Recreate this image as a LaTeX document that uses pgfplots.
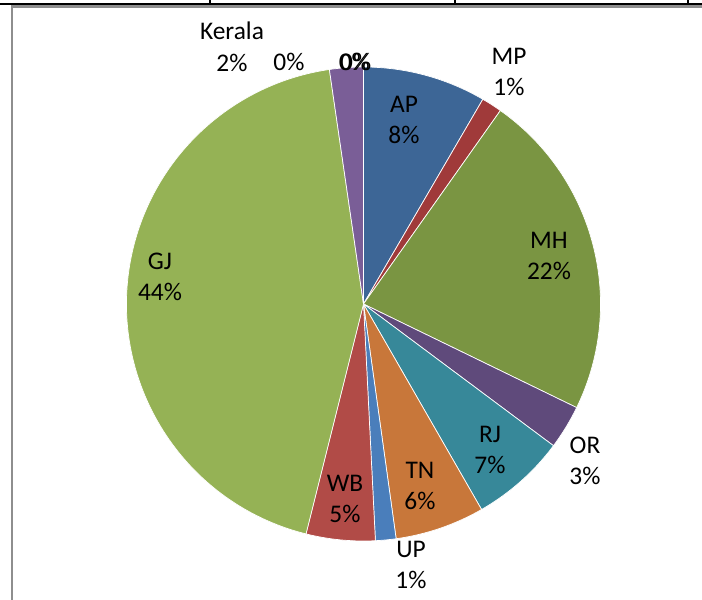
\documentclass[border=0pt]{standalone}
\usepackage{pgfplots}
\usepackage{pgfplotstable}
\pgfplotsset{compat=1.18}
\usepackage{fontspec}
\setmainfont{Carlito}
\definecolor{cAP}{HTML}{3D6696}
\definecolor{cMP}{HTML}{A03A3A}
\definecolor{cMH}{HTML}{7A9542}
\definecolor{cOR}{HTML}{5F4A7B}
\definecolor{cRJ}{HTML}{378899}
\definecolor{cTN}{HTML}{C8773A}
\definecolor{cUP}{HTML}{4A7EBB}
\definecolor{cWB}{HTML}{B14B47}
\definecolor{cGJ}{HTML}{95B255}
\definecolor{cKE}{HTML}{7A5E97}
\definecolor{frame}{HTML}{8E8E8E}
\pgfplotstableread{
name pct col
AP 8.4 cAP
MP 1.4 cMP
MH 22.4 cMH
OR 3.0 cOR
RJ 6.5 cRJ
TN 6.1 cTN
UP 1.4 cUP
WB 4.7 cWB
GJ 43.8 cGJ
Kerala 2.3 cKE
X1 0 cKE
X2 0 cKE
X3 0 cKE
}\piedata
\begin{document}
\begin{tikzpicture}
\begin{axis}[name=ax, width=351pt, height=300pt, scale only axis, hide axis,
  xmin=0, xmax=702, ymin=0, ymax=600, y dir=reverse, clip=false]
\pgfplotsextra{
  \xdef\cum{0}
  \pgfplotstableforeachcolumnelement{pct}\of\piedata\as\v{%
    \pgfplotstablegetelem{\pgfplotstablerow}{col}\of\piedata
    \let\c=\pgfplotsretval
    \pgfmathsetmacro\a{90-\cum*3.6}%
    \pgfmathsetmacro\b{90-(\cum+\v)*3.6}%
    \pgfmathsetmacro\n{\cum+\v}%
    \xdef\cum{\n}%
    \fill[fill=\c, draw=white, line width=0.35pt] (axis cs:363.5,304) -- ++(\a:118.5pt) arc[start angle=\a, end angle=\b, radius=118.5pt] -- cycle;
  }
  % frame lines
  \draw[black, line width=1pt] (axis cs:0,4) -- (axis cs:702,4);
  \draw[black, line width=0.7pt] (axis cs:210,0) -- (axis cs:210,4);
  \draw[black, line width=0.7pt] (axis cs:455,0) -- (axis cs:455,4);
  \draw[black, line width=0.7pt] (axis cs:688,0) -- (axis cs:688,4);
  \draw[frame, line width=1.2pt] (axis cs:12,600) -- (axis cs:12,6.5) -- (axis cs:702,6.5);
}
\begin{scope}[every node/.style={font=\fontsize{12.7}{15.8}\selectfont, align=center, inner sep=0pt}]
\node at (axis cs:232,47) {Kerala\\2\%};
\node at (axis cs:289,62) {0\%};
\node at (axis cs:354.3,62) {0\%};
\node at (axis cs:355.7,62) {0\%};
\node at (axis cs:509,72) {MP\\1\%};
\node at (axis cs:404,120) {AP\\8\%};
\node at (axis cs:549,256) {MH\\22\%};
\node at (axis cs:160,277) {GJ\\44\%};
\node at (axis cs:490,450) {RJ\\7\%};
\node at (axis cs:585,461) {OR\\3\%};
\node at (axis cs:420,486) {TN\\6\%};
\node at (axis cs:345,499) {WB\\5\%};
\node at (axis cs:411,565) {UP\\1\%};
\end{scope}
\end{axis}
\pgfresetboundingbox
\path (ax.south west) rectangle (ax.north east);
\end{tikzpicture}
\end{document}
